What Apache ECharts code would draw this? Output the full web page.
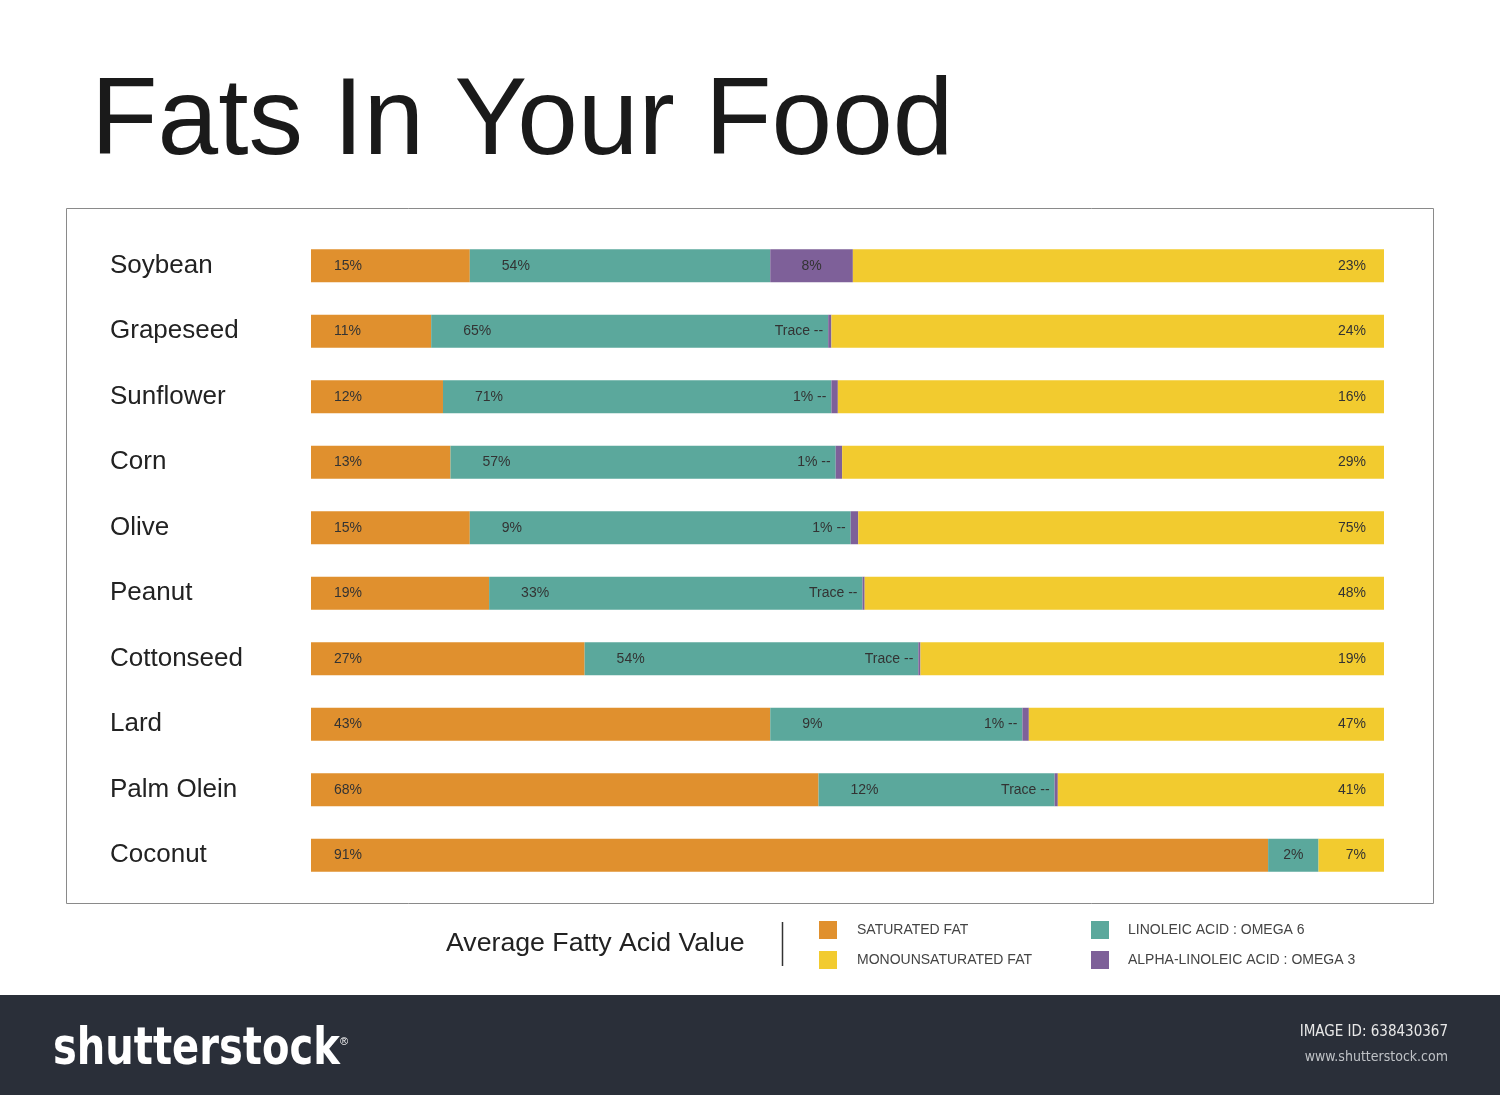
<!DOCTYPE html>
<html>
<head>
<meta charset="utf-8">
<script src="https://cdn.jsdelivr.net/npm/echarts@6/dist/echarts.min.js"></script>
<style>
html,body{margin:0;padding:0;background:#fff;}
#chart{width:1500px;height:1095px;}
</style>
</head>
<body>
<div id="chart"></div>
<script>
// Categories (top to bottom)
const categories = ['Soybean','Grapeseed','Sunflower','Corn','Olive','Peanut','Cottonseed','Lard','Palm Olein','Coconut'];

// Segment lengths as drawn in the picture (share of bar, %)
const saturatedVals = [14.8, 11.2, 12.3, 13.0, 14.8, 16.6, 25.5, 42.8, 47.3, 89.2];
const omega6Vals    = [28.0, 37.0, 36.2, 35.9, 35.5, 34.8, 31.1, 23.5, 22.0, 4.7];
const omega3Vals    = [7.7, 0.3, 0.6, 0.6, 0.7, 0.2, 0.2, 0.6, 0.3, 0];
const monoVals      = [49.5, 51.5, 50.9, 50.5, 49.0, 48.4, 43.2, 33.1, 30.4, 6.1];

// Printed labels
const saturatedLabels = ['15%','11%','12%','13%','15%','19%','27%','43%','68%','91%'];
const omega6Labels    = ['54%','65%','71%','57%','9%','33%','54%','9%','12%','2%'];
const omega3Labels    = ['8%','Trace --','1% --','1% --','1% --','Trace --','Trace --','1% --','Trace --',''];
const monoLabels      = ['23%','24%','16%','29%','75%','48%','19%','47%','41%','7%'];

const seriesNames = ['SATURATED FAT','LINOLEIC ACID : OMEGA 6','ALPHA-LINOLEIC ACID : OMEGA 3','MONOUNSATURATED FAT'];
const colors = ['#E0902E','#5BA89C','#7E6099','#F2CB2F'];

const FONT = '"Liberation Sans", Arial, Helvetica, sans-serif';
const lblBase = {show:true, color:'#333', fontSize:14, fontFamily:FONT};

function mk(vals, labels, ruleFn){
  return vals.map((v,i)=>{
    const item = {value:v};
    const l = ruleFn(v,i);
    item.label = Object.assign({}, lblBase, l, {formatter: labels[i]});
    return item;
  });
}

const satData = mk(saturatedVals, saturatedLabels, ()=>({position:'insideLeft', distance:23}));
const o6Data  = mk(omega6Vals, omega6Labels, (v)=> v < 8 ? {position:'inside'} : {position:'insideLeft', distance:32});
const o3Data  = mk(omega3Vals, omega3Labels, (v)=> v > 3 ? {position:'inside'} : {position:'left', distance:5});
const monoData= mk(monoVals, monoLabels, ()=>({position:'insideRight', distance:18}));

const chart = echarts.init(document.getElementById('chart'), null, {renderer:'canvas'});

const option = {
  animation:false,
  backgroundColor:'#ffffff',
  title:{
    text:'Fats In Your Food',
    left:86, top:64,
    textStyle:{fontFamily:FONT, fontSize:109, fontWeight:'normal', color:'#1a1a1a'}
  },
  grid:{left:311, right:116, top:233, bottom:207},
  xAxis:{type:'value', min:0, max:100, show:false},
  yAxis:{
    type:'category', data:categories, inverse:true,
    axisLine:{show:false}, axisTick:{show:false},
    axisLabel:{align:'left', margin:201, fontSize:26, color:'#222', fontFamily:FONT, padding:[4,0,0,0]}
  },
  legend:[
    {
      data:[seriesNames[0], seriesNames[3]],
      orient:'vertical', left:819, top:921, padding:0,
      itemWidth:18, itemHeight:18, itemGap:12,
      icon:'rect',
      textStyle:{fontSize:14, color:'#444', fontFamily:FONT, padding:[0,0,0,15]}
    },
    {
      data:[seriesNames[1], seriesNames[2]],
      orient:'vertical', left:1091, top:921, padding:0,
      itemWidth:18, itemHeight:18, itemGap:12,
      icon:'rect',
      textStyle:{fontSize:14, color:'#444', fontFamily:FONT, padding:[0,0,0,14]}
    }
  ],
  series:[
    {name:seriesNames[0], type:'bar', stack:'s', barWidth:33, itemStyle:{color:colors[0]}, data:satData},
    {name:seriesNames[1], type:'bar', stack:'s', barWidth:33, itemStyle:{color:colors[1]}, data:o6Data},
    {name:seriesNames[2], type:'bar', stack:'s', barWidth:33, itemStyle:{color:colors[2]}, data:o3Data},
    {name:seriesNames[3], type:'bar', stack:'s', barWidth:33, itemStyle:{color:colors[3]}, data:monoData}
  ],
  graphic:[
    {type:'rect', shape:{x:66.5, y:208.5, width:1367, height:695}, style:{fill:'none', stroke:'#8a8a8a', lineWidth:1}, z:-1},
    {type:'text', left:446, top:930, style:{text:'Average Fatty Acid Value', font:'26.7px '+FONT, fill:'#222'}},
    {type:'line', shape:{x1:782.5, y1:922, x2:782.5, y2:966}, style:{stroke:'#333', lineWidth:1.5}},
    {type:'rect', shape:{x:0, y:995, width:1500, height:100}, style:{fill:'#2A2F39'}},
    {type:'text', x:53, y:1024, scaleX:0.77, style:{text:'shutterstock', font:'bold 52px "DejaVu Sans", sans-serif', fill:'#ffffff'}},
    {type:'text', x:340, y:1036, style:{text:'®', font:'11px '+FONT, fill:'#ffffff'}},
    {type:'text', right:52, top:1025, style:{text:'IMAGE ID: 638430367', font:'15px "DejaVu Sans Condensed", "Open Sans", sans-serif', fill:'#e8e8e8', textAlign:'right'}},
    {type:'text', right:52, top:1050, style:{text:'www.shutterstock.com', font:'14px "DejaVu Sans Condensed", "Open Sans", sans-serif', fill:'#bfc2c6', textAlign:'right'}}
  ]
};
chart.setOption(option);
</script>
</body>
</html>
